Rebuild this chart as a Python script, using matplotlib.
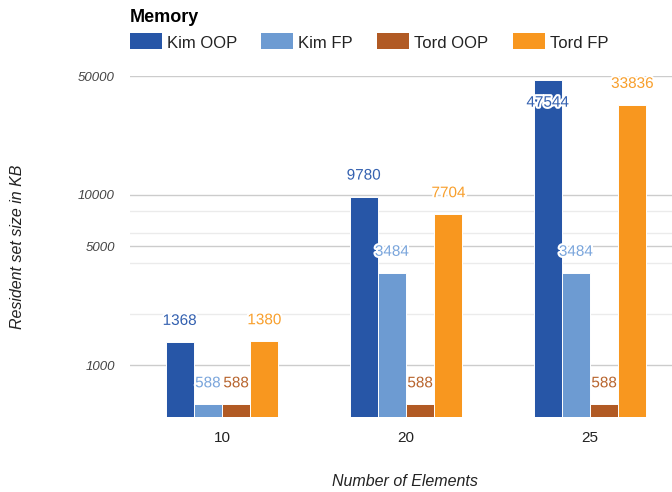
import matplotlib
matplotlib.use("Agg")
import matplotlib.pyplot as plt
import matplotlib.patheffects as pe
from matplotlib.patches import Rectangle
import numpy as np

plt.rcParams['font.family'] = ['Liberation Sans', 'DejaVu Sans']

# ---- data ----
categories = ['10', '20', '25']
series_names = ['Kim OOP', 'Kim FP', 'Tord OOP', 'Tord FP']
kim_oop = [1368, 9780, 47544]
kim_fp = [588, 3484, 3484]
tord_oop = [588, 588, 588]
tord_fp = [1380, 7704, 33836]
y_major = [1000, 5000, 10000, 50000]
y_minor = [2000, 4000, 6000, 8000]

series = [kim_oop, kim_fp, tord_oop, tord_fp]
bar_colors = ['#2756a7', '#6d9bd2', '#b15a24', '#f8971f']
label_colors = ['#3461b0', '#7ba6dc', '#b8652e', '#f89f2c']

W, H = 672, 492
fig = plt.figure(figsize=(W / 100, H / 100), dpi=100)
ax_l, ax_r, ax_t, ax_b = 130, 672, 76, 417
ax = fig.add_axes([ax_l / W, 1 - ax_b / H, (ax_r - ax_l) / W, (ax_b - ax_t) / H])

ax.set_yscale('log')
ymin, ymax = 495, 50000
ax.set_ylim(ymin, ymax)
ax.set_xlim(-0.5, 2.4457)

x = np.arange(len(categories))
bw = 0.1535
offsets = (np.arange(4) - 1.5) * bw

px_per_decade = (ax_b - ax_t) / (np.log10(ymax) - np.log10(ymin))
for i, (vals, bc, lc) in enumerate(zip(series, bar_colors, label_colors)):
    ax.bar(x + offsets[i], vals, width=bw, color=bc, edgecolor='white',
           linewidth=0.7, zorder=3, bottom=0)
    for xi, v in zip(x + offsets[i], vals):
        # place label above bar, or inside when there's no room
        if np.log10(v) + 21 / px_per_decade > np.log10(ymax):
            off = -23
        else:
            off = 21
        ax.annotate(str(v), (xi, v), xytext=(0, off), textcoords='offset pixels',
                    ha='center', va='center', fontsize=11, color=lc, zorder=5,
                    path_effects=[pe.withStroke(linewidth=3, foreground='white')])

ax.set_yticks(y_major)
ax.set_yticklabels([str(v) for v in y_major], fontstyle='italic', color='#444444', fontsize=9.5)
ax.set_yticks(y_minor, minor=True)
ax.set_yticklabels([], minor=True)
ax.tick_params(axis='y', which='both', length=0, pad=11)
ax.set_xticks(x)
ax.set_xticklabels(categories, fontsize=11, color='#222222')
ax.tick_params(axis='x', length=0, pad=10)

ax.grid(which='major', axis='y', color='#cccccc', linewidth=1.0, zorder=0)
ax.grid(which='minor', axis='y', color='#ebebeb', linewidth=1.0, zorder=0)
ax.set_axisbelow(True)
for s in ax.spines.values():
    s.set_visible(False)

ax.set_xlabel('Number of Elements', fontsize=11.5, fontstyle='italic', color='#222222', va='center')
ax.xaxis.set_label_coords((405 - ax_l) / (ax_r - ax_l), (ax_b - 482) / (ax_b - ax_t))
ax.set_ylabel('Resident set size in KB', fontsize=11.5, fontstyle='italic', color='#222222', va='center')
ax.yaxis.set_label_coords((18 - ax_l) / (ax_r - ax_l), (ax_b - 247) / (ax_b - ax_t))

# title
fig.text(130 / W, 1 - 22 / H, 'Memory', fontsize=13, fontweight='bold', color='black', va='baseline')

# legend
box_x = [130, 261, 377, 513]
for bx, name, c in zip(box_x, series_names, bar_colors):
    fig.add_artist(Rectangle((bx / W, 1 - 49 / H), 32 / W, 16 / H, transform=fig.transFigure,
                             facecolor=c, edgecolor='none'))
    fig.text((bx + 37) / W, 1 - 47.5 / H, name, fontsize=12, color='#222222', va='baseline')

fig.savefig('out.png', dpi=100)
